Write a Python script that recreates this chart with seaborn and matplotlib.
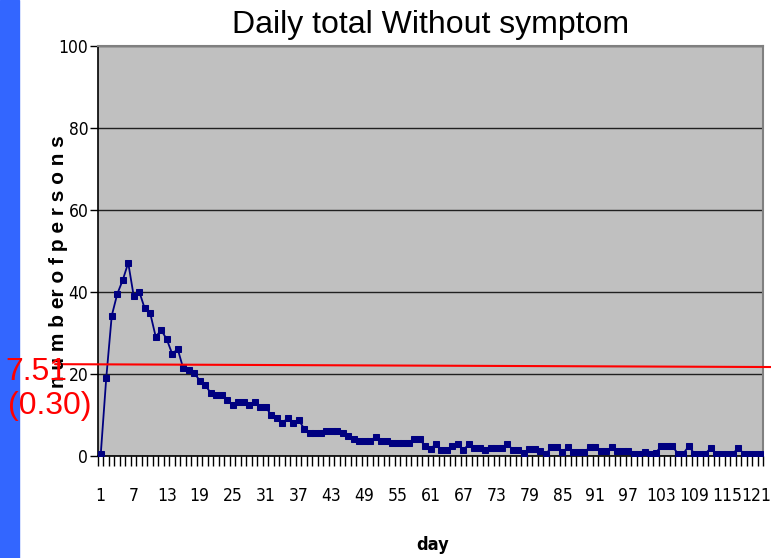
import numpy as np
import pandas as pd
import seaborn as sns
import matplotlib
matplotlib.use("Agg")
from matplotlib import pyplot as plt
from matplotlib import transforms
from matplotlib import font_manager
from matplotlib.patches import Rectangle

# values
days = list(range(1, 122))
persons = [
    0.4, 19.0, 34.2, 39.5, 42.9, 47.1, 39.0, 40.1, 36.0, 34.8,
    29.1, 30.7, 28.5, 24.9, 26.1, 21.4, 21.0, 20.3, 18.4, 17.3,
    15.4, 14.9, 14.9, 13.7, 12.4, 13.2, 13.1, 12.4, 13.2, 12.0,
    12.0, 10.0, 9.2, 8.0, 9.2, 8.0, 8.8, 6.7, 5.5, 5.5,
    5.5, 6.2, 6.2, 6.2, 5.5, 4.9, 4.1, 3.7, 3.7, 3.7,
    4.6, 3.7, 3.7, 3.1, 3.1, 3.1, 3.1, 4.1, 4.1, 2.5,
    1.8, 2.9, 1.5, 1.5, 2.4, 2.9, 1.5, 2.9, 2.0, 2.0,
    1.5, 2.0, 2.0, 2.0, 2.9, 1.5, 1.5, 0.8, 1.6, 1.7,
    1.1, 0.5, 2.1, 2.1, 1.0, 2.1, 1.0, 1.0, 1.0, 2.1,
    2.1, 1.3, 1.3, 2.1, 1.3, 1.3, 1.3, 0.6, 0.6, 1.0,
    0.6, 0.8, 2.4, 2.4, 2.4, 0.6, 0.6, 2.4, 0.6, 0.6,
    0.6, 1.9, 0.6, 0.6, 0.6, 0.6, 1.9, 0.6, 0.6, 0.6,
    0.6,
]
x_tick_days = list(range(1, 122, 6))
y_ticks = [0, 20, 40, 60, 80, 100]
mean_label = "7.51"
sd_label = "(0.30)"
red_level = [22.4, 21.7]  # red line, left end / right end

sns.set_style("white")
plt.rcParams['font.family'] = ['Liberation Sans', 'DejaVu Sans']
for k in ['text.color', 'axes.labelcolor', 'xtick.color', 'ytick.color']:
    plt.rcParams[k] = 'black'

# narrow font for the axis numbers
narrow = font_manager.FontProperties(family='DejaVu Sans', stretch='condensed', size=12.5)
narrow_bold = font_manager.FontProperties(family='DejaVu Sans', stretch='condensed',
                                          weight='bold', size=13)

df = pd.DataFrame({"day": days, "persons": persons})

W, H = 771, 558
fig = plt.figure(figsize=(W / 100, H / 100), dpi=100)
fig.patch.set_facecolor('white')
fig.patches.append(Rectangle((0, 0), 19 / W, 1, transform=fig.transFigure,
                             color='#3366ff', zorder=0))

ax = fig.add_axes([98 / W, 102 / H, 665 / W, 410 / H])
ax.set_facecolor('#c0c0c0')
ax.set_axisbelow(True)

sns.lineplot(data=df, x='day', y='persons', ax=ax, color='#000080',
             marker='s', markersize=4.8, markeredgecolor='#000080',
             linewidth=1.3, zorder=3)

ax.set_xlim(0.5, 121.5)
ax.set_ylim(0, 100)
ax.set_yticks(y_ticks)
ax.yaxis.grid(True, color='#202020', lw=1)
ax.xaxis.grid(False)
ax.set_xticks(x_tick_days)
ax.set_xticks(np.arange(0.5, 122, 1), minor=True)
ax.tick_params(axis='x', which='major', bottom=True, length=0, pad=22)
ax.tick_params(axis='x', which='minor', bottom=True, length=7, width=1,
               color='black', direction='out')
ax.tick_params(axis='y', left=True, length=6, width=1, color='black',
               direction='out', pad=1)
for lab in ax.get_xticklabels() + ax.get_yticklabels():
    lab.set_fontproperties(narrow)
# last day label sits against the right edge
last = ax.get_xticklabels()[-1]
last.set_transform(last.get_transform() +
                   transforms.ScaledTranslation(-4 / 100, 0, fig.dpi_scale_trans))
ax.set_xlabel('')
ax.set_ylabel('')

for side in ['left', 'bottom']:
    ax.spines[side].set_color('black')
    ax.spines[side].set_linewidth(1.2)
for side in ['top', 'right']:
    ax.spines[side].set_color('#808080')
    ax.spines[side].set_linewidth(1.5)

ax.set_title('Daily total Without symptom', fontsize=23, pad=9)

fig.text(433 / W, 1 - 545 / H, 'day', fontproperties=narrow_bold,
         ha='center', va='center')
fig.text(58 / W, 1 - 262 / H, 'n u m b er o f p e r s o n s', fontsize=15,
         fontweight='bold', rotation=90, ha='center', va='center')

# red reference line with its label
trans = transforms.blended_transform_factory(fig.transFigure, ax.transData)
ax.plot([55 / W, 1.0], red_level, transform=trans, color='red', lw=1.5,
        clip_on=False, zorder=5)
fig.text(5 / W, 1 - 380 / H, mean_label, color='red', fontsize=23, va='baseline')
fig.text(8 / W, 1 - 414 / H, sd_label, color='red', fontsize=23, va='baseline')

plt.savefig("out.png", dpi=100)
plt.close()
